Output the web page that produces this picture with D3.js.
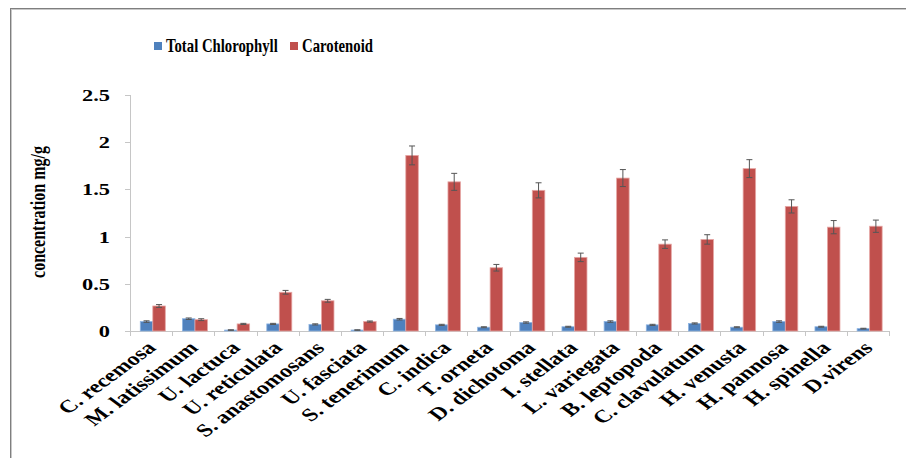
<!DOCTYPE html>
<html>
<head>
<meta charset="utf-8">
<script src="https://cdn.jsdelivr.net/npm/d3@7"></script>
<style>
  html, body { margin: 0; padding: 0; background: #fff; }
  svg { display: block; }
  text { font-family: "Liberation Serif", "Times New Roman", serif; font-weight: bold; fill: #000; }
</style>
</head>
<body>
<svg id="chart" width="906" height="458"></svg>
<script>
// Pigment content of 18 seaweed species (mg/g)
const species = [
  "C. recemosa", "M. latissimum", "U. lactuca", "U. reticulata", "S. anastomosans",
  "U. fasciata", "S. tenerimum", "C. indica", "T. orneta", "D. dichotoma",
  "I. stellata", "L. variegata", "B. leptopoda", "C. clavulatum", "H. venusta",
  "H. pannosa", "H. spinella", "D.virens"
];
const seriesNames = ["Total Chlorophyll", "Carotenoid"];
const chlorophyll = [0.10, 0.13, 0.01, 0.075, 0.07, 0.01, 0.125, 0.065, 0.04, 0.09, 0.045, 0.10, 0.065, 0.08, 0.04, 0.10, 0.045, 0.025];
const chlorophyllErr = [0.008, 0.008, 0.003, 0.006, 0.006, 0.003, 0.008, 0.006, 0.005, 0.007, 0.005, 0.008, 0.006, 0.006, 0.005, 0.008, 0.005, 0.004];
const carotenoid = [0.265, 0.12, 0.075, 0.41, 0.32, 0.10, 1.86, 1.58, 0.67, 1.49, 0.78, 1.62, 0.92, 0.97, 1.72, 1.32, 1.10, 1.11];
const carotenoidErr = [0.015, 0.01, 0.006, 0.02, 0.015, 0.006, 0.10, 0.09, 0.035, 0.08, 0.045, 0.09, 0.045, 0.05, 0.095, 0.07, 0.07, 0.065];
const yTicks = [0, 0.5, 1, 1.5, 2, 2.5];
const colors = ["#4F81BD", "#C0504D"];
const edgeColors = ["#8db3e2", "#e6a6a4"];

const svg = d3.select("#chart");

// outer frame (left and top edges)
svg.append("line").attr("x1", 10.5).attr("x2", 10.5).attr("y1", 8).attr("y2", 458)
  .attr("stroke", "#7f7f7f").attr("stroke-width", 1);
svg.append("line").attr("x1", 11.5).attr("x2", 11.5).attr("y1", 9).attr("y2", 458)
  .attr("stroke", "#c8c8c8").attr("stroke-width", 1);
svg.append("line").attr("x1", 10).attr("x2", 906).attr("y1", 8.5).attr("y2", 8.5)
  .attr("stroke", "#7f7f7f").attr("stroke-width", 1);
svg.append("line").attr("x1", 11).attr("x2", 906).attr("y1", 9.5).attr("y2", 9.5)
  .attr("stroke", "#c8c8c8").attr("stroke-width", 1);

const plot = { left: 130, right: 889, top: 95, bottom: 331 };

const y = d3.scaleLinear().domain([0, 2.5]).range([plot.bottom, plot.top]);
const xCat = d3.scaleBand().domain(species).range([plot.left, plot.right]).padding(0);
const x0 = d3.scaleBand().domain(species).range([plot.left, plot.right])
  .paddingInner(0.407).paddingOuter(0.2035).align(0.6);
const x1 = d3.scaleBand().domain(seriesNames).range([0, x0.bandwidth()]);

const axisColor = "#c6c6c6";

// y axis line and ticks
svg.append("line").attr("x1", plot.left + 0.5).attr("x2", plot.left + 0.5)
  .attr("y1", y(2.5)).attr("y2", y(0)).attr("stroke", axisColor);
svg.selectAll(".ytick").data(yTicks).enter().append("line")
  .attr("x1", plot.left - 5).attr("x2", plot.left)
  .attr("y1", d => Math.round(y(d)) + 0.5).attr("y2", d => Math.round(y(d)) + 0.5)
  .attr("stroke", axisColor);
svg.selectAll(".ylab").data(yTicks).enter().append("text")
  .attr("transform", d => `translate(110,${y(d) + 6}) scale(1.4,1)`)
  .attr("text-anchor", "end")
  .style("font-size", "16px")
  .text(d => d3.format("")(d));

// y axis title
svg.append("text")
  .attr("transform", "translate(45,212) scale(1.3,1) rotate(-90)")
  .attr("text-anchor", "middle")
  .style("font-size", "16px")
  .text("concentration mg/g");

// x axis line and category ticks
svg.append("line").attr("x1", plot.left).attr("x2", plot.right)
  .attr("y1", plot.bottom + 0.5).attr("y2", plot.bottom + 0.5).attr("stroke", axisColor);
const tickXs = species.map(s => xCat(s)).concat([plot.right]);
svg.selectAll(".xtick").data(tickXs).enter().append("line")
  .attr("x1", d => Math.round(d) + 0.5).attr("x2", d => Math.round(d) + 0.5)
  .attr("y1", plot.bottom).attr("y2", plot.bottom + 5)
  .attr("stroke", axisColor);

// bars
const groups = svg.selectAll(".grp").data(species).enter().append("g")
  .attr("transform", d => `translate(${x0(d)},0)`);

const rows = (d, i) => [
  { key: seriesNames[0], v: chlorophyll[i], e: chlorophyllErr[i], c: 0 },
  { key: seriesNames[1], v: carotenoid[i], e: carotenoidErr[i], c: 1 }
];

groups.each(function (d, i) {
  const g = d3.select(this);
  const r = rows(d, i);
  g.selectAll("rect").data(r).enter().append("rect")
    .attr("x", b => x1(b.key))
    .attr("y", b => y(b.v))
    .attr("width", x1.bandwidth())
    .attr("height", b => y(0) - y(b.v))
    .attr("fill", b => colors[b.c])
    .attr("stroke", b => edgeColors[b.c])
    .attr("stroke-width", 0.8);
  // error bars
  const eb = g.selectAll(".err").data(r).enter().append("g").attr("stroke", "#555").attr("stroke-width", 1);
  eb.append("line")
    .attr("x1", b => x1(b.key) + x1.bandwidth() / 2).attr("x2", b => x1(b.key) + x1.bandwidth() / 2)
    .attr("y1", b => y(b.v - b.e)).attr("y2", b => y(b.v + b.e));
  eb.append("line")
    .attr("x1", b => x1(b.key) + x1.bandwidth() / 2 - 3).attr("x2", b => x1(b.key) + x1.bandwidth() / 2 + 3)
    .attr("y1", b => y(b.v + b.e)).attr("y2", b => y(b.v + b.e));
  eb.append("line")
    .attr("x1", b => x1(b.key) + x1.bandwidth() / 2 - 3).attr("x2", b => x1(b.key) + x1.bandwidth() / 2 + 3)
    .attr("y1", b => y(b.v - b.e)).attr("y2", b => y(b.v - b.e));
});

// category labels
svg.selectAll(".xlab").data(species).enter().append("text")
  .attr("transform", d => `translate(${xCat(d) + xCat.bandwidth() / 2 + 6},${plot.bottom + 18}) scale(1.35,1) rotate(-45)`)
  .attr("text-anchor", "end")
  .style("font-size", "18px")
  .text(d => d);

// legend
const legend = svg.append("g");
const legendItems = [
  { name: seriesNames[0], x: 154, c: 0 },
  { name: seriesNames[1], x: 290, c: 1 }
];
legendItems.forEach(it => {
  legend.append("rect").attr("x", it.x).attr("y", 42).attr("width", 8).attr("height", 8)
    .attr("fill", colors[it.c]);
  legend.append("text")
    .attr("transform", `translate(${it.x + 12},52) scale(0.82,1)`)
    .style("font-size", "18px")
    .text(it.name);
});
</script>
</body>
</html>
